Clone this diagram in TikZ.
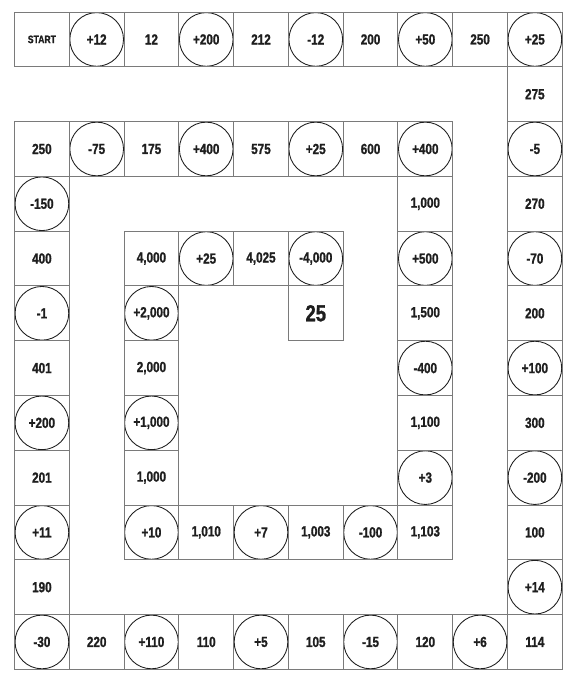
\documentclass[tikz,border=0pt]{standalone}
\usepackage{fontspec}
\newfontfamily\boardfont{Liberation Sans Bold}[FakeStretch=0.8,FakeBold=1.2]
\definecolor{ink} {HTML}{1E1E1E}
\definecolor{rule}{HTML}{7A7A7A}
\tikzset{
  % --- squares of the board
  sq/.style    = {draw=rule, line width=0.5pt, minimum size=1cm, inner sep=0pt,
                  outer sep=0pt, text=ink,
                  font=\boardfont\fontsize{7.6}{9}\selectfont},
  ring/.style  = {sq, path picture={\draw[ink, line width=0.45pt]
                  (path picture bounding box.center) circle (0.49);}},
  first/.style = {sq, font=\boardfont\fontsize{5.6}{7}\selectfont},
  goal/.style  = {sq, font=\boardfont\fontsize{12}{14}\selectfont},
}
\begin{document}
\begin{tikzpicture}
  \useasboundingbox (-0.265,0.22) rectangle (10.324,-12.359);
  % column/row/label/kind
  \foreach \c/\r/\lbl/\kind in {
    1/1/START/first, 2/1/+12/ring, 3/1/12/sq, 4/1/+200/ring, 5/1/212/sq,
    6/1/-12/ring, 7/1/200/sq, 8/1/+50/ring, 9/1/250/sq, 10/1/+25/ring,
    10/2/275/sq,
    1/3/250/sq, 2/3/-75/ring, 3/3/175/sq, 4/3/+400/ring, 5/3/575/sq,
    6/3/+25/ring, 7/3/600/sq, 8/3/+400/ring, 10/3/-5/ring,
    1/4/-150/ring, 8/4/{1,000}/sq, 10/4/270/sq,
    1/5/400/sq, 3/5/{4,000}/sq, 4/5/+25/ring, 5/5/{4,025}/sq,
    6/5/{-4,000}/ring, 8/5/+500/ring, 10/5/-70/ring,
    1/6/-1/ring, 3/6/{+2,000}/ring, 6/6/25/goal, 8/6/{1,500}/sq, 10/6/200/sq,
    1/7/401/sq, 3/7/{2,000}/sq, 8/7/-400/ring, 10/7/+100/ring,
    1/8/+200/ring, 3/8/{+1,000}/ring, 8/8/{1,100}/sq, 10/8/300/sq,
    1/9/201/sq, 3/9/{1,000}/sq, 8/9/+3/ring, 10/9/-200/ring,
    1/10/+11/ring, 3/10/+10/ring, 4/10/{1,010}/sq, 5/10/+7/ring,
    6/10/{1,003}/sq, 7/10/-100/ring, 8/10/{1,103}/sq, 10/10/100/sq,
    1/11/190/sq, 10/11/+14/ring,
    1/12/-30/ring, 2/12/220/sq, 3/12/+110/ring, 4/12/110/sq, 5/12/+5/ring,
    6/12/105/sq, 7/12/-15/ring, 8/12/120/sq, 9/12/+6/ring, 10/12/114/sq}
    \node[\kind] (b\r-\c) at (\c-0.5,0.5-\r) {\lbl};
\end{tikzpicture}
\end{document}
